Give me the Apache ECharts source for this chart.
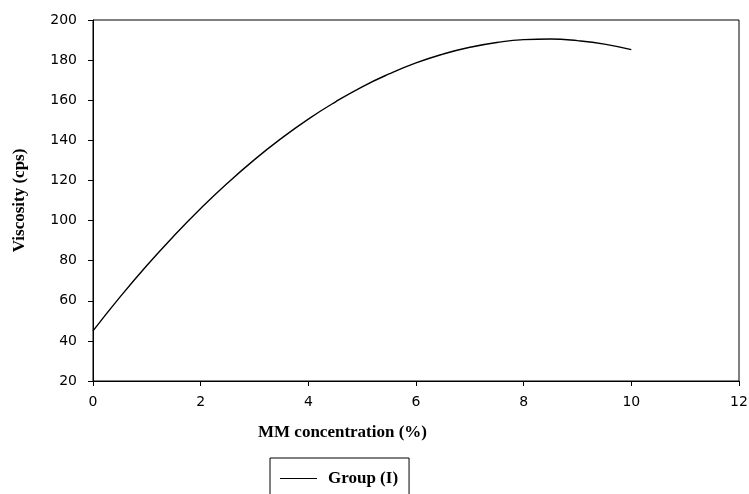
<!DOCTYPE html>
<html>
<head>
<meta charset="utf-8">
<script src="https://cdn.jsdelivr.net/npm/echarts@6/dist/echarts.min.js"></script>
<style>
  html, body { margin: 0; padding: 0; background: #fff; }
  #main { width: 749px; height: 494px; }
</style>
</head>
<body>
<div id="main"></div>
<script>
// MM concentration (%) and viscosity (cps)
var concentration = [0, 0.5, 1, 1.5, 2, 2.5, 3, 3.5, 4, 4.5, 5, 5.5, 6, 6.5, 7, 7.5, 8, 8.5, 9, 9.5, 10]
var viscosity = [45, 61.8, 77.6, 92.3, 106, 118.7, 130.4, 141, 150.6, 159.1, 166.7, 173.1, 178.6, 183, 186.4, 188.8, 190.2, 190.5, 189.7, 188, 185.2]
var seriesName = 'Group (I)'
var xTitle = 'MM concentration (%)'
var yTitle = 'Viscosity (cps)'

var chart = echarts.init(document.getElementById('main'))

var tickFont = {
  color: '#000',
  fontSize: 14,
  fontFamily: 'DejaVu Sans, Arial, sans-serif'
}
var titleFont = {
  color: '#000',
  fontSize: 17,
  fontWeight: 'bold',
  fontFamily: 'Liberation Serif, Times New Roman, serif'
}

var option = {
  animation: false,
  grid: {
    left: 93,
    right: 10,
    top: 20,
    bottom: 113,
    outerBoundsMode: 'none',
    show: true,
    borderColor: '#000',
    borderWidth: 1
  },
  legend: {
    left: 270,
    top: 458,
    width: 139,
    padding: [12, 11, 30, 10],
    borderColor: '#000',
    borderWidth: 1,
    icon: 'rect',
    itemWidth: 37,
    itemHeight: 1,
    textStyle: Object.assign({ padding: [0, 0, 0, 6] }, titleFont),
    data: [seriesName]
  },
  graphic: [
    {
      type: 'text',
      left: 258,
      top: 424,
      style: {
        text: xTitle,
        fill: '#000',
        font: 'bold 17px "Liberation Serif", "Times New Roman", serif'
      }
    }
  ],
  xAxis: {
    type: 'value',
    min: 0,
    max: 12,
    interval: 2,
    axisLine: { lineStyle: { color: '#000', width: 1 } },
    axisTick: { show: true, length: 5, lineStyle: { color: '#000' } },
    axisLabel: Object.assign({ margin: 14 }, tickFont),
    splitLine: { show: false }
  },
  yAxis: {
    type: 'value',
    min: 20,
    max: 200,
    interval: 20,
    name: yTitle,
    nameLocation: 'middle',
    nameGap: 65,
    nameTextStyle: titleFont,
    axisLine: { show: true, lineStyle: { color: '#000', width: 1 } },
    axisTick: { show: true, length: 5, lineStyle: { color: '#000' } },
    axisLabel: Object.assign({ margin: 16 }, tickFont),
    splitLine: { show: false }
  },
  series: [
    {
      name: seriesName,
      type: 'line',
      smooth: true,
      showSymbol: false,
      lineStyle: { color: '#000', width: 1.4 },
      itemStyle: { color: '#000' },
      data: concentration.map(function (x, i) { return [x, viscosity[i]] })
    }
  ]
}

option && chart.setOption(option)
</script>
</body>
</html>
